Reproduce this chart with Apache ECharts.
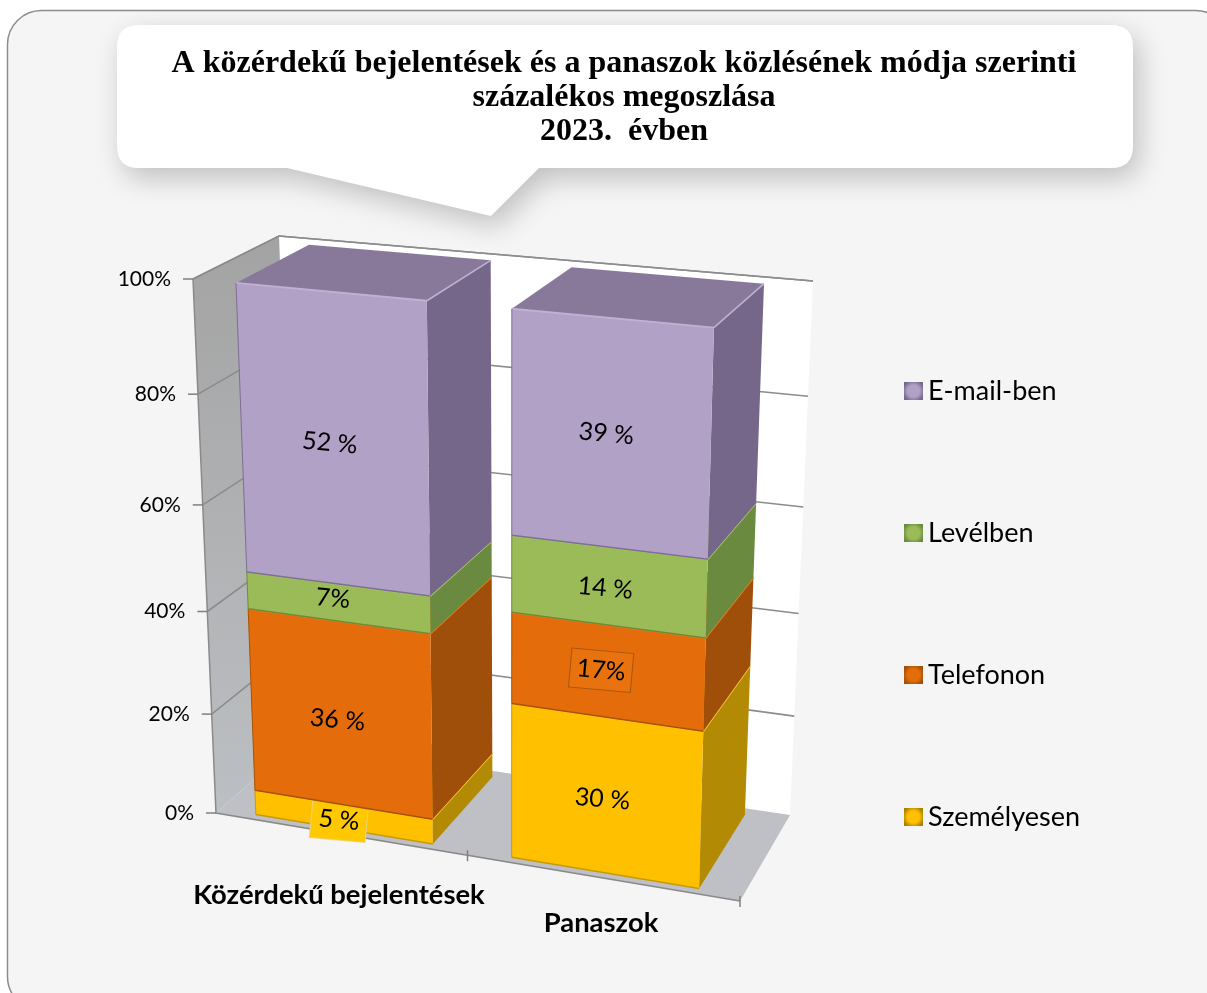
<!DOCTYPE html>
<html>
<head>
<meta charset="utf-8">
<script src="https://cdn.jsdelivr.net/npm/echarts@6/dist/echarts.min.js"></script>
<style>
  html, body { margin: 0; padding: 0; background: #fff; }
  #box { width: 1207px; height: 993px; }
</style>
</head>
<body>
<div id="box"></div>
<script>
const categories = ['Közérdekű bejelentések', 'Panaszok'];
const tickValues = [0, 20, 40, 60, 80, 100];
const tickLabels = ['0%', '20%', '40%', '60%', '80%', '100%'];
const seriesNames = ['Személyesen', 'Telefonon', 'Levélben', 'E-mail-ben'];
const szemelyesen = [5, 30];
const telefonon = [36, 17];
const levelben = [7, 14];
const emailben = [52, 39];
const szemelyesenLabels = ['5 %', '30 %'];
const telefononLabels = ['36 %', '17%'];
const levelbenLabels = ['7%', '14 %'];
const emailbenLabels = ['52 %', '39 %'];

// corners of the 3D box on screen (front/back, left/right, bottom/top)
const BOX = {
  flb: [216, 813], frb: [740, 901], blb: [297, 742], brb: [790, 815],
  flt: [193, 279], frt: [758, 332], blt: [279, 236], brt: [813, 281]
};
const PERSPECTIVE = 0.1;
const BAR_Z = [0.06, 0.93];
// bars stop a little under the 100% line in the picture
const BAR_HEIGHT = 0.995;
// bar edges as offset from the band centre, the right one is a bit wider in the picture
const BAR_SPAN = [[-0.183, 0.156], [-0.193, 0.166]];

const lerp = (a, b, t) => [a[0] + (b[0] - a[0]) * t, a[1] + (b[1] - a[1]) * t];

// fx, fy, z all 0..1
function project(fx, fy, z) {
  const t = fy / (1 + PERSPECTIVE * (1 - fy));
  const fb = lerp(BOX.flb, BOX.frb, fx), ft = lerp(BOX.flt, BOX.frt, fx);
  const bb = lerp(BOX.blb, BOX.brb, fx), bt = lerp(BOX.blt, BOX.brt, fx);
  return lerp(lerp(fb, ft, t), lerp(bb, bt, t), z);
}

// goes through the axes, then out to the tilted box
function toBox(params, api, cat, val) {
  const c = api.coord([cat, val]);
  const g = params.coordSys;
  return [(c[0] - g.x) / g.width, (g.y + g.height - c[1]) / g.height];
}

const poly = (points, fill) => ({
  type: 'polygon', shape: { points: points }, style: { fill: fill }, silent: true
});
const line = (points, stroke, w) => ({
  type: 'polyline', shape: { points: points }, style: { stroke: stroke, lineWidth: w, fill: null }, silent: true
});

function renderCallout() {
  return {
    type: 'path',
    silent: true,
    shape: {
      pathData: 'M139 25 L1111 25 Q1133 25 1133 47 L1133 146 Q1133 168 1111 168 L539 168 L491 216 L287 168 L139 168 Q117 168 117 146 L117 47 Q117 25 139 25 Z',
      x: 117, y: 25, width: 1016, height: 191, layout: 'cover'
    },
    style: { fill: '#fff', shadowBlur: 28, shadowOffsetX: 6, shadowOffsetY: 10, shadowColor: 'rgba(0,0,0,0.22)' }
  };
}

function renderWalls() {
  const wallFill = new echarts.graphic.LinearGradient(0, 0, 0, 1, [
    { offset: 0, color: '#a3a3a3' }, { offset: 1, color: '#bcbfc3' }
  ]);
  return {
    type: 'group',
    children: [
      poly([BOX.blb, BOX.brb, BOX.brt, BOX.blt], '#ffffff'),
      poly([BOX.flb, BOX.blb, BOX.blt, BOX.flt], wallFill),
      poly([BOX.flb, BOX.frb, BOX.brb, BOX.blb], '#bfc0c5'),
      line([BOX.flt, BOX.blt, BOX.brt], '#8f8f8f', 1.5),
      line([BOX.flt, BOX.flb, BOX.frb], '#8a8a8a', 1.5)
    ]
  };
}

function renderTick(params, api) {
  const i = params.dataIndex;
  const fy = toBox(params, api, 0, api.value(1))[1];
  const a = project(0, fy, 0), b = project(0, fy, 1), c = project(1, fy, 1);
  return {
    type: 'group',
    children: [
      line([a, b, c], fy === 0 ? 'rgba(0,0,0,0)' : '#8c8c8c', 1.6),
      line([[a[0] - 10, a[1]], a], '#7f7f7f', 1.5),
      {
        type: 'text', silent: true,
        style: {
          x: a[0] - 22, y: a[1], text: tickLabels[i], fill: '#000',
          font: '21px Lato', textAlign: 'right', textVerticalAlign: 'middle'
        }
      }
    ]
  };
}

const CAT_LABEL_SHIFT = [[-8, 60], [-8, 44]];
const CAT_TICK_AT = [0.48, 1];
function renderCategory(params, api) {
  const i = params.dataIndex;
  const f = toBox(params, api, i, 0);
  const p = project(f[0], 0, 0);
  const edge = project(CAT_TICK_AT[i], 0, 0);
  return {
    type: 'group',
    children: [
      line([[edge[0], edge[1] - 5], [edge[0], edge[1] + 6]], '#7f7f7f', 1.5),
      {
        type: 'text', silent: true,
        style: {
          x: p[0] + CAT_LABEL_SHIFT[i][0], y: p[1] + CAT_LABEL_SHIFT[i][1], text: categories[i],
          fill: '#000', font: 'bold 27.4px Lato', textAlign: 'center', textVerticalAlign: 'middle'
        }
      }
    ]
  };
}

function segmentRenderer(style, labels, below, boxed, nudge) {
  return function (params, api) {
    const i = api.value(0);
    const base = below[i];
    const f0 = toBox(params, api, i, base);
    const f1 = toBox(params, api, i, base + api.value(1));
    const x0 = f0[0] + BAR_SPAN[i][0], x1 = f0[0] + BAR_SPAN[i][1];
    const z0 = BAR_Z[0], z1 = BAR_Z[1];
    const y0 = f0[1] * BAR_HEIGHT, y1 = f1[1] * BAR_HEIGHT;
    const fl0 = project(x0, y0, z0), fr0 = project(x1, y0, z0);
    const fl1 = project(x0, y1, z0), fr1 = project(x1, y1, z0);
    const br0 = project(x1, y0, z1), br1 = project(x1, y1, z1), bl1 = project(x0, y1, z1);
    const cx = (fl0[0] + fr0[0] + fl1[0] + fr1[0]) / 4 + nudge[i][0];
    const cy = (fl0[1] + fr0[1] + fl1[1] + fr1[1]) / 4 + nudge[i][1];
    const lab = boxed[i];
    return {
      type: 'group',
      children: [
        poly([fr0, br0, br1, fr1], style.side),
        poly([fl1, fr1, br1, bl1], style.top),
        poly([fl0, fr0, fr1, fl1], style.front),
        line([fl1, fr1], style.light, 2),
        line([fr1, br1], style.light, 1.5),
        line([fl0, fr0], style.dark, 1.5),
        line([fl0, fl1], style.dark, 1),
        {
          type: 'text', silent: true, x: cx, y: cy, rotation: -0.09,
          style: Object.assign({
            x: 0, y: 0, text: labels[i], fill: '#000', font: '25px Lato',
            textAlign: 'center', textVerticalAlign: 'middle'
          }, lab || {})
        }
      ]
    };
  };
}

function legendIcon(edge, mid) {
  return new echarts.graphic.RadialGradient(0.5, 0.5, 0.6, [
    { offset: 0, color: mid }, { offset: 0.55, color: mid }, { offset: 1, color: edge }
  ]);
}

const STYLES = {
  'Személyesen': { front: '#ffc000', side: '#b28a04', top: '#e0a800', light: '#ffd23e', dark: '#c99a00', edge: '#a88200' },
  'Telefonon': { front: '#e46c0a', side: '#a04f0a', top: '#b85a0a', light: '#f58020', dark: '#a85206', edge: '#a04f0a' },
  'Levélben': { front: '#9bbb59', side: '#6a8a40', top: '#7b9a45', light: '#aecb6c', dark: '#6f8a3a', edge: '#6a8a40' },
  'E-mail-ben': { front: '#b2a1c7', side: '#75678a', top: '#88799b', light: '#c0b1d3', dark: '#7d6f92', edge: '#75678a' }
};

const stacks = [szemelyesen, telefonon, levelben, emailben];
const labelSets = [szemelyesenLabels, telefononLabels, levelbenLabels, emailbenLabels];
const boxedLabels = [
  [{ backgroundColor: '#ffc800', borderColor: '#e8d67a', borderWidth: 1, padding: [8, 7, 6, 7] }, null],
  [null, { backgroundColor: '#e8720e', borderColor: '#a8560f', borderWidth: 1, padding: [7, 6, 6, 6] }],
  [null, null],
  [null, null]
];
const labelNudge = [
  [[-5, 3], [-4, 4]],
  [[-4, 7], [-7, -1]],
  [[-6, -4], [-4, 2]],
  [[-5, 5], [-5, 1]]
];

const barSeries = seriesNames.map(function (name, s) {
  const below = categories.map(function (_, i) {
    let sum = 0;
    for (let k = 0; k < s; k++) sum += stacks[k][i];
    return sum;
  });
  return {
    name: name,
    type: 'custom',
    coordinateSystem: 'cartesian2d',
    itemStyle: { color: STYLES[name].front },
    renderItem: segmentRenderer(STYLES[name], labelSets[s], below, boxedLabels[s], labelNudge[s]),
    data: stacks[s].map((v, i) => [i, v]),
    encode: { x: 0, y: 1 },
    z: 5 + s,
    silent: true
  };
});

var myChart = echarts.init(document.getElementById('box'), null, { renderer: 'canvas' });
var option = {
  animation: false,
  title: {
    text: 'A közérdekű bejelentések és a panaszok közlésének módja szerinti\nszázalékos megoszlása\n2023.  évben',
    left: 619, top: 42, textAlign: 'center', z: 10,
    textStyle: { fontFamily: 'Liberation Serif', fontWeight: 'bold', fontSize: 32, lineHeight: 34, color: '#000' }
  },
  graphic: [
    {
      type: 'rect', z: -2, silent: true,
      shape: { x: 7.5, y: 10.5, width: 1222, height: 1000, r: 34 },
      style: { fill: '#f5f5f5', stroke: '#8c8c8c', lineWidth: 1.5 }
    }
  ],
  legend: {
    data: seriesNames.slice().reverse().map(function (name) {
      return { name: name, itemStyle: { color: legendIcon(STYLES[name].edge, STYLES[name].front) } };
    }),
    orient: 'vertical',
    left: 899, top: 371,
    itemWidth: 19, itemHeight: 18, itemGap: 112,
    icon: 'rect',
    selectedMode: false,
    textStyle: { fontFamily: 'Lato', fontSize: 27, color: '#000', lineHeight: 30 }
  },
  grid: { left: 216, right: 467, top: 279, bottom: 180 },
  xAxis: { type: 'category', data: categories, show: false },
  yAxis: { type: 'value', min: 0, max: 100, interval: 20, show: false },
  series: [
    {
      type: 'custom', name: 'szovegdoboz', coordinateSystem: 'cartesian2d', silent: true, z: 0,
      renderItem: renderCallout, data: [[0, 0]]
    },
    {
      type: 'custom', name: 'falak', coordinateSystem: 'cartesian2d', silent: true, z: 1,
      renderItem: renderWalls, data: [[0, 0]]
    },
    {
      type: 'custom', name: 'tengely', coordinateSystem: 'cartesian2d', silent: true, z: 2,
      renderItem: renderTick, data: tickValues.map(v => [0, v]), encode: { x: 0, y: 1 }
    },
    {
      type: 'custom', name: 'kategoriak', coordinateSystem: 'cartesian2d', silent: true, z: 3,
      renderItem: renderCategory, data: categories.map((c, i) => [i, 0]), encode: { x: 0, y: 1 }
    }
  ].concat(barSeries)
};
myChart.setOption(option);
</script>
</body>
</html>
